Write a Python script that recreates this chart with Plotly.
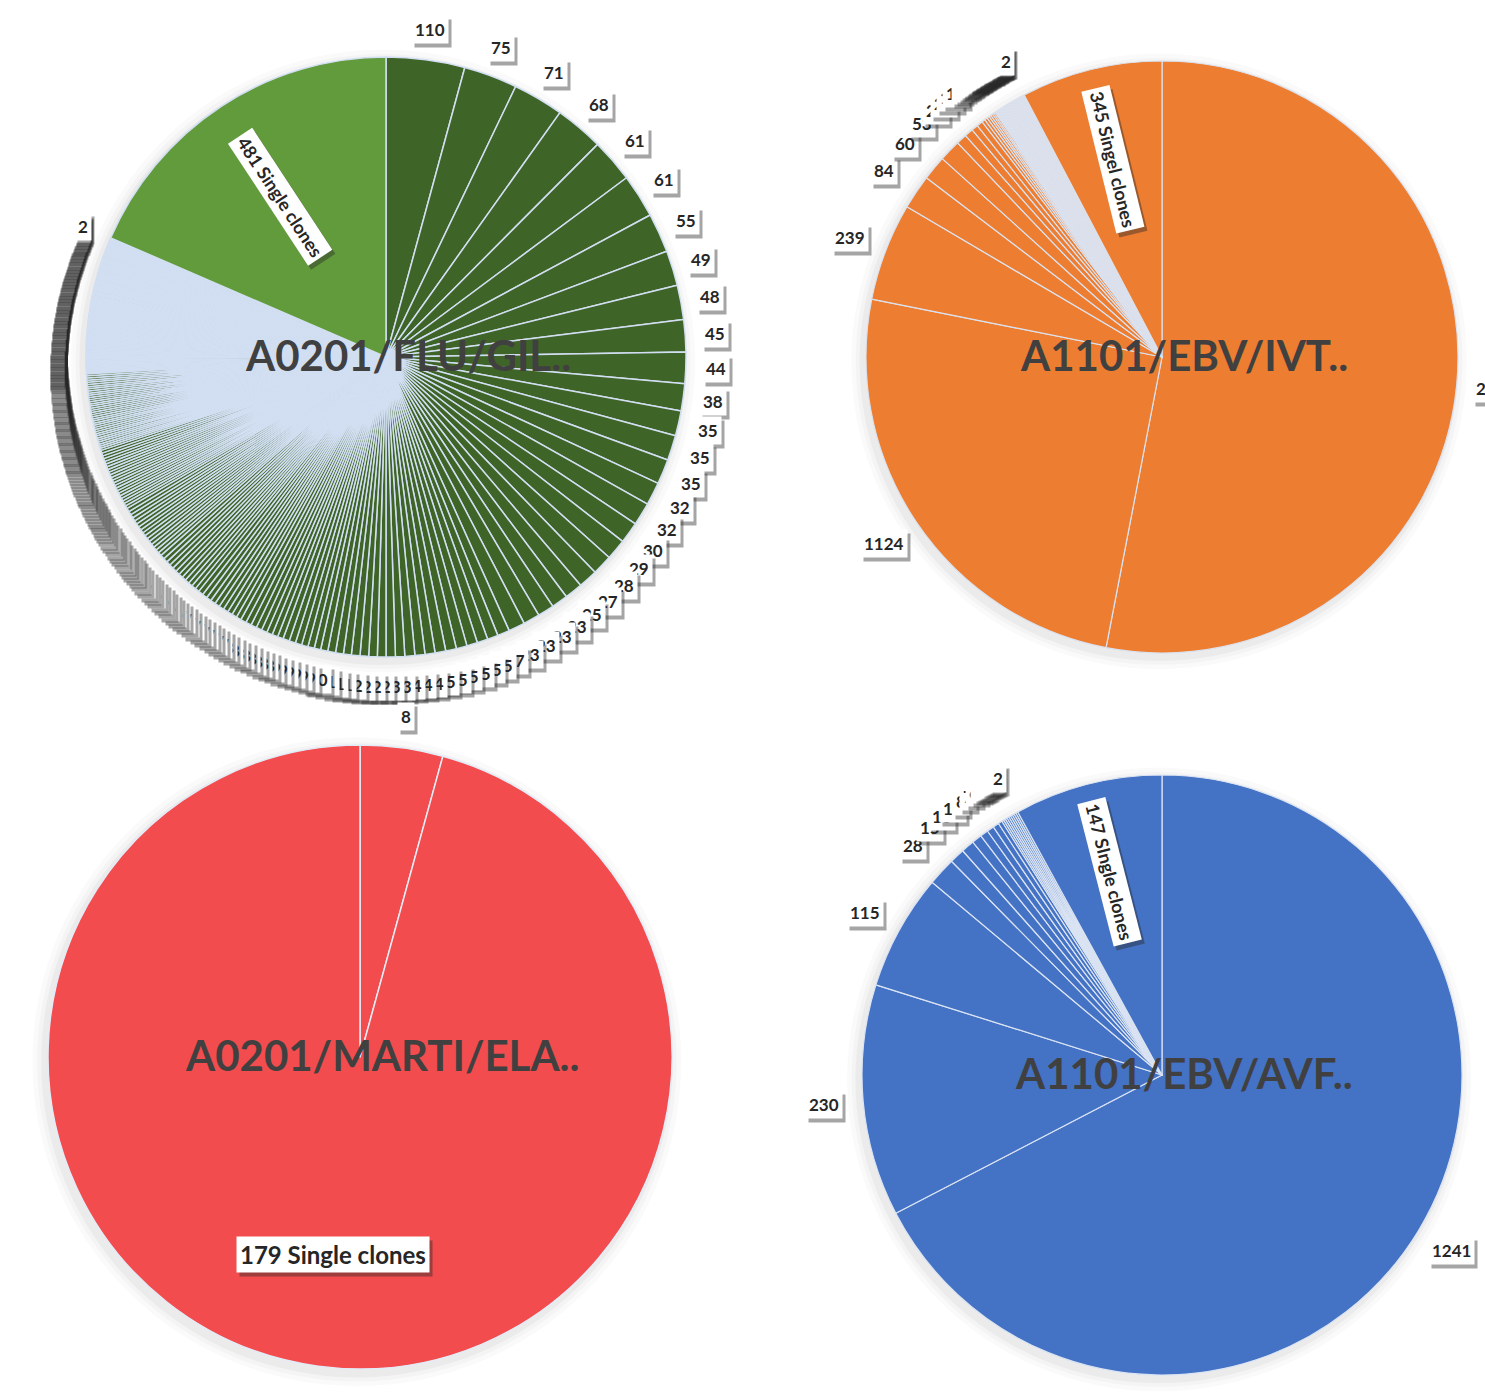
import math
import plotly.graph_objects as go

W, H = 1485, 1400
FONT = "Lato"

# ---------------- data ----------------
titles = ["A0201/FLU/GIL..", "A1101/EBV/IVT..", "A0201/MARTI/ELA..", "A1101/EBV/AVF.."]
single_texts = ["481 Single clones", "345 Singel clones", "179 Single clones", "147 SIngle clones"]

# A0201/FLU/GIL..  (clockwise from 12 o'clock, single clones last)
flu_major = [110, 75, 71, 68, 61, 61, 55, 49, 48, 45, 44, 38, 35, 35, 35, 32, 32, 30, 29, 28, 27, 25,
             23, 23, 23, 23, 17, 15, 15, 15, 15, 15, 15, 14, 14, 14, 13, 13, 12, 12, 12, 12, 11, 11, 11, 10]
flu_small_sizes = [9, 8, 7, 6, 5, 4, 3, 2]
flu_small_counts = [6, 8, 10, 12, 16, 22, 36, 96]
flu_single = 481

# A1101/EBV/IVT..
ivt_major = [2374, 1124, 239, 84, 60, 53, 26, 21, 16, 15, 8, 7, 6, 5, 5, 4, 4, 3, 3, 3]
ivt_small_sizes = [2]
ivt_small_counts = [36]
ivt_single = 345

# A0201/MARTI/ELA..
marti_major = [8]
marti_small_sizes = []
marti_small_counts = []
marti_single = 179

# A1101/EBV/AVF..
avf_major = [1241, 230, 115, 28, 15, 13, 10, 8, 7, 6, 4]
avf_small_sizes = [2]
avf_small_counts = [9]
avf_single = 147


def expand(sizes, counts):
    out = []
    for s, c in zip(sizes, counts):
        out += [s] * c
    return out


series = [
    flu_major + expand(flu_small_sizes, flu_small_counts) + [flu_single],
    ivt_major + expand(ivt_small_sizes, ivt_small_counts) + [ivt_single],
    marti_major + expand(marti_small_sizes, marti_small_counts) + [marti_single],
    avf_major + expand(avf_small_sizes, avf_small_counts) + [avf_single],
]

# ---------------- styling / placement ----------------
cfg = [
    dict(cx=386, cy=357, r=300, col="#3f6427", single_col="#629b3c", line="#d2dff2", lw=1.5,
         lab_r=1.10, in_r=0.64, in_mode="radial", in_size=18),
    dict(cx=1162, cy=357, r=296, col="#ed7d31", single_col="#ed7d31", line="#dbe2ef", lw=1.2,
         lab_r=1.13, in_r=0.69, in_mode="radial", in_size=18),
    dict(cx=360, cy=1057, r=312, col="#f24c4e", single_col="#f24c4e", line="#e3ebf6", lw=1.5,
         lab_r=1.10, in_r=0.64, in_mode="horizontal", in_size=24),
    dict(cx=1162, cy=1075, r=300, col="#4472c4", single_col="#4472c4", line="#dbe4f3", lw=1.2,
         lab_r=1.13, in_r=0.70, in_mode="radial", in_size=18),
]
LABEL_SIZE = 17

fig = go.Figure()
annotations = []
shapes = []
layout_axes = {}


def axref(i):
    return ("x" if i == 0 else f"x{i+1}"), ("y" if i == 0 else f"y{i+1}")


def add_label(i, x, y, text, size, angle=0, shadow=True, xanchor="center"):
    xr, yr = axref(i)
    if shadow:
        annotations.append(dict(xref=xr, yref=yr, x=x, y=y, text=text, showarrow=False,
                                xanchor=xanchor,
                                font=dict(family=FONT, size=size, color="rgba(0,0,0,0)"),
                                bgcolor="rgba(40,40,40,0.42)", borderpad=3,
                                xshift=3, yshift=-4, textangle=angle))
    annotations.append(dict(xref=xr, yref=yr, x=x, y=y, text=text, showarrow=False,
                            xanchor=xanchor,
                            font=dict(family=FONT, size=size, color="#262626"),
                            bgcolor="white", borderpad=3, textangle=angle))


for i, (vals, c) in enumerate(zip(series, cfg)):
    r = c["r"]
    dom_x = [(c["cx"] - r) / W, (c["cx"] + r) / W]
    dom_y = [1 - (c["cy"] + r) / H, 1 - (c["cy"] - r) / H]
    colors = [c["col"]] * (len(vals) - 1) + [c["single_col"]]
    fig.add_trace(go.Pie(values=vals, sort=False, direction="clockwise", rotation=0,
                         marker=dict(colors=colors, line=dict(color=c["line"], width=c["lw"])),
                         textinfo="none", hoverinfo="value", showlegend=False,
                         domain=dict(x=dom_x, y=dom_y)))
    # full-page helper axes: one unit = one pie radius, origin at the pie centre
    xr, yr = axref(i)
    suffix = "" if i == 0 else str(i + 1)
    xrange = [-c["cx"] / r, (W - c["cx"]) / r]
    yrange = [-(H - c["cy"]) / r, c["cy"] / r]
    layout_axes["xaxis" + suffix] = dict(domain=[0, 1], range=xrange, visible=False,
                                         fixedrange=True, anchor=yr)
    layout_axes["yaxis" + suffix] = dict(domain=[0, 1], range=yrange, visible=False,
                                         fixedrange=True, anchor=xr)
    fig.add_trace(go.Scatter(x=[None], y=[None], xaxis=xr, yaxis=yr, showlegend=False,
                             hoverinfo="skip"))

    # soft halo behind the pie
    for rr, a in [(1.04, 0.018), (1.025, 0.025), (1.012, 0.035)]:
        shapes.append(dict(type="circle", xref=xr, yref=yr, x0=-rr - 0.01, x1=rr - 0.01,
                           y0=-rr - 0.015, y1=rr - 0.015, line=dict(width=0),
                           fillcolor=f"rgba(0,0,0,{a})", layer="below"))

    total = float(sum(vals))
    cum = 0.0
    n = len(vals)
    for j, v in enumerate(vals):
        th = 2 * math.pi * (cum + v / 2.0) / total
        cum += v
        if j == n - 1:
            continue
        R = c["lab_r"]
        x, y = R * math.sin(th), R * math.cos(th)
        xa = "center"
        if x > xrange[1] - 0.01:
            # label centre would fall off the page: anchor its left edge instead
            half = (len(str(v)) * 0.58 * LABEL_SIZE + 6) / 2 / r
            x, xa = x - half, "left"
        add_label(i, x, y, f"<b>{v}</b>", LABEL_SIZE, xanchor=xa)

    # single-clone label inside the last slice
    v = vals[-1]
    th = 2 * math.pi * (total - v / 2.0) / total
    R = c["in_r"]
    ang = 0 if c["in_mode"] == "horizontal" else math.degrees(th) - 270
    add_label(i, R * math.sin(th), R * math.cos(th), f"<b>{single_texts[i]}</b>", c["in_size"], angle=ang)

    # title in the middle
    annotations.append(dict(xref=xr, yref=yr, x=0, y=0, text=f"<b>{titles[i]}</b>", showarrow=False,
                            xshift=22, yshift=2,
                            font=dict(family=FONT, size=42, color="#404040")))

fig.update_layout(width=W, height=H, margin=dict(l=0, r=0, t=0, b=0),
                  paper_bgcolor="white", plot_bgcolor="rgba(0,0,0,0)",
                  annotations=annotations, shapes=shapes, hovermode=False, **layout_axes)

fig.write_html("out.html")
